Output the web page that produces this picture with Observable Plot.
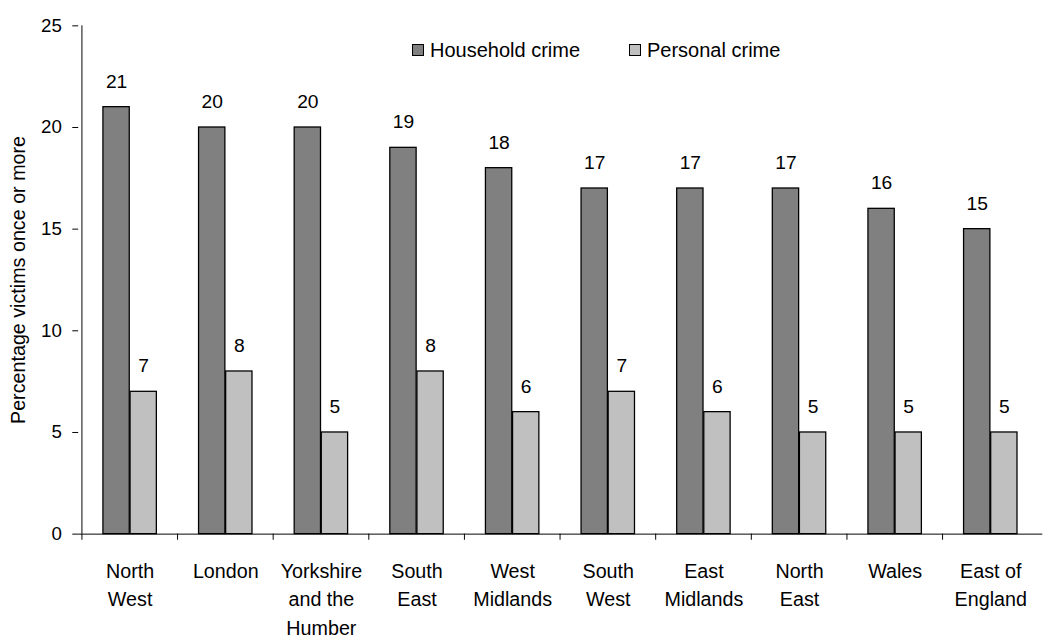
<!DOCTYPE html>
<html><head><meta charset="utf-8">
<script src="https://cdn.jsdelivr.net/npm/d3@7"></script>
<script src="https://cdn.jsdelivr.net/npm/@observablehq/plot@0.6"></script>
<style>
html,body{margin:0;padding:0;background:#fff;overflow:hidden;}
#wrap{position:relative;width:1045px;height:639px;overflow:hidden;font-family:"Liberation Sans",Arial,sans-serif;}
.lg{position:absolute;font-size:20px;color:#000;line-height:1;white-space:nowrap;}
.sw{position:absolute;width:10px;height:10px;border:1px solid #000;}
</style></head><body><div id="wrap"></div>
<script>
const regions = ["North West","London","Yorkshire and the Humber","South East","West Midlands","South West","East Midlands","North East","Wales","East of England"];
const regionLabels = ["North\nWest","London","Yorkshire\nand the\nHumber","South\nEast","West\nMidlands","South\nWest","East\nMidlands","North\nEast","Wales","East of\nEngland"];
const household = [21,20,20,19,18,17,17,17,16,15];
const personal = [7,8,5,8,6,7,6,5,5,5];
const seriesNames = ["Household crime","Personal crime"];
const seriesColors = ["#808080","#c0c0c0"];
const yTicks = [0,5,10,15,20,25];
const yTitle = "Percentage victims once or more";

const W=1060,H=639,ML=79.3,MR=2.7,MT=25.7,MB=97.7;
const step=(W-ML-MR)/regions.length;
const barW=27.5, outer=(step-2*barW)/2;

const hh = regions.map((r,i)=>({region:r,series:seriesNames[0],value:household[i]}));
const pc = regions.map((r,i)=>({region:r,series:seriesNames[1],value:personal[i]}));

const chart = Plot.plot({
  width:W,height:H,marginLeft:ML,marginRight:MR,marginTop:MT,marginBottom:MB,
  style:{fontFamily:'"Liberation Sans",Arial,sans-serif',fontSize:"20px",color:"#000",background:"#fff",overflow:"visible"},
  x:{domain:regions,padding:0,label:null},
  y:{domain:[0,25],label:null},
  marks:[
    Plot.barY(hh,{x:"region",y:"value",fill:seriesColors[0],stroke:"#000",strokeWidth:1.3,insetLeft:outer,insetRight:step-outer-barW}),
    Plot.barY(pc,{x:"region",y:"value",fill:seriesColors[1],stroke:"#000",strokeWidth:1.3,insetLeft:outer+barW,insetRight:outer}),
    Plot.text(hh,{x:"region",y:"value",text:"value",dx:-barW/2,dy:-26,fill:"#000",fontSize:19.5}),
    Plot.text(pc,{x:"region",y:"value",text:"value",dx:barW/2,dy:-26,fill:"#000",fontSize:19.5}),
    Plot.ruleY([0],{stroke:"#000"}),
    Plot.ruleX([regions[0]],{x:d=>d,dx:-step/2,stroke:"#000"}),
    Plot.ruleX(regions,{x:d=>d,dx:-step/2,y1:0,y2:-0.3,stroke:"#000"}),
    Plot.axisY({ticks:yTicks,tickSize:6,tickPadding:11,label:null,stroke:"#000",fill:"#000",fontSize:19}),
    Plot.axisX({tickSize:0,tickPadding:23.8,tickFormat:d=>regionLabels[regions.indexOf(d)],lineHeight:1.45,label:null,fill:"#000",fontSize:20}),
    Plot.text([yTitle],{text:d=>d,frameAnchor:"left",textAnchor:"middle",rotate:-90,dx:-61,fill:"#000",fontSize:20})
  ]
});
const wrap=document.getElementById("wrap");
wrap.appendChild(chart);
const legend=[{x:412,tx:430,i:0},{x:629,tx:647,i:1}];
for(const l of legend){
  const s=document.createElement("div");s.className="sw";s.style.left=l.x+"px";s.style.top="44px";s.style.background=seriesColors[l.i];wrap.appendChild(s);
  const t=document.createElement("div");t.className="lg";t.style.left=l.tx+"px";t.style.top="40.1px";t.textContent=seriesNames[l.i];wrap.appendChild(t);
}
</script></body></html>
